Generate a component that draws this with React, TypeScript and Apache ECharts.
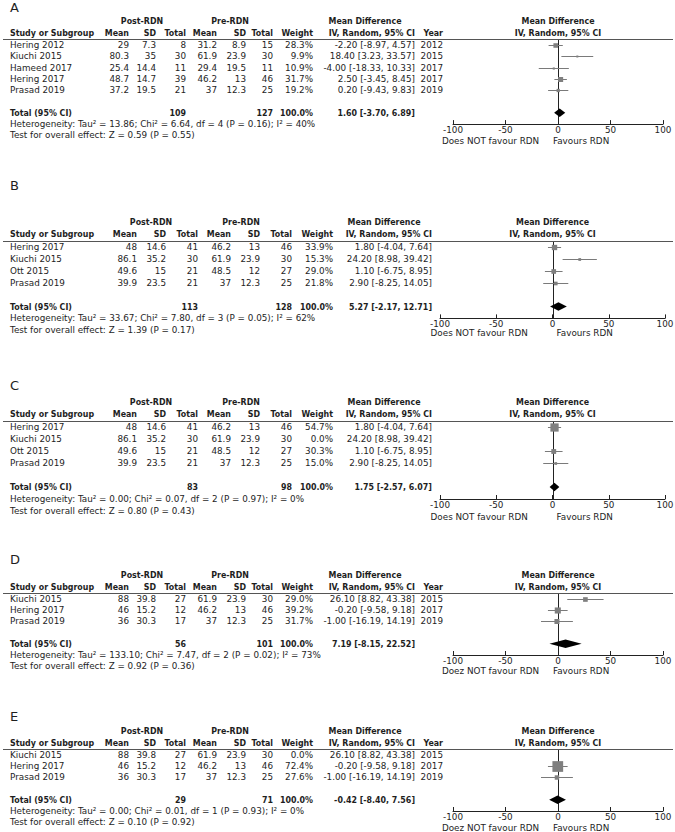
import React, { useEffect, useRef } from "react";
import * as echarts from "echarts";

// ---------- Panel A ----------
const A_studies = ["Hering 2012", "Kiuchi 2015", "Hameed 2017", "Hering 2017", "Prasad 2019"];
const A_postMean = [29, 80.3, 25.4, 48.7, 37.2];
const A_postSD = [7.3, 35, 14.4, 14.7, 19.5];
const A_postN = [8, 30, 11, 39, 21];
const A_preMean = [31.2, 61.9, 29.4, 46.2, 37];
const A_preSD = [8.9, 23.9, 19.5, 13, 12.3];
const A_preN = [15, 30, 11, 46, 25];
const A_weight = [28.3, 9.9, 10.9, 31.7, 19.2];
const A_md = [-2.2, 18.4, -4.0, 2.5, 0.2];
const A_lo = [-8.97, 3.23, -18.33, -3.45, -9.43];
const A_hi = [4.57, 33.57, 10.33, 8.45, 9.83];
const A_year = [2012, 2015, 2017, 2017, 2019];
const A_total = [109, 127, 1.6, -3.7, 6.89];
const A_het = "Heterogeneity: Tau² = 13.86; Chi² = 6.64, df = 4 (P = 0.16); I² = 40%";
const A_test = "Test for overall effect: Z = 0.59 (P = 0.55)";

// ---------- Panel B ----------
const B_studies = ["Hering 2017", "Kiuchi 2015", "Ott 2015", "Prasad 2019"];
const B_postMean = [48, 86.1, 49.6, 39.9];
const B_postSD = [14.6, 35.2, 15, 23.5];
const B_postN = [41, 30, 21, 21];
const B_preMean = [46.2, 61.9, 48.5, 37];
const B_preSD = [13, 23.9, 12, 12.3];
const B_preN = [46, 30, 27, 25];
const B_weight = [33.9, 15.3, 29.0, 21.8];
const B_md = [1.8, 24.2, 1.1, 2.9];
const B_lo = [-4.04, 8.98, -6.75, -8.25];
const B_hi = [7.64, 39.42, 8.95, 14.05];
const B_total = [113, 128, 5.27, -2.17, 12.71];
const B_het = "Heterogeneity: Tau² = 33.67; Chi² = 7.80, df = 3 (P = 0.05); I² = 62%";
const B_test = "Test for overall effect: Z = 1.39 (P = 0.17)";

// ---------- Panel C ----------
const C_studies = ["Hering 2017", "Kiuchi 2015", "Ott 2015", "Prasad 2019"];
const C_postMean = [48, 86.1, 49.6, 39.9];
const C_postSD = [14.6, 35.2, 15, 23.5];
const C_postN = [41, 30, 21, 21];
const C_preMean = [46.2, 61.9, 48.5, 37];
const C_preSD = [13, 23.9, 12, 12.3];
const C_preN = [46, 30, 27, 25];
const C_weight = [54.7, 0.0, 30.3, 15.0];
const C_md = [1.8, 24.2, 1.1, 2.9];
const C_lo = [-4.04, 8.98, -6.75, -8.25];
const C_hi = [7.64, 39.42, 8.95, 14.05];
const C_total = [83, 98, 1.75, -2.57, 6.07];
const C_het = "Heterogeneity: Tau² = 0.00; Chi² = 0.07, df = 2 (P = 0.97); I² = 0%";
const C_test = "Test for overall effect: Z = 0.80 (P = 0.43)";

// ---------- Panel D ----------
const D_studies = ["Kiuchi 2015", "Hering 2017", "Prasad 2019"];
const D_postMean = [88, 46, 36];
const D_postSD = [39.8, 15.2, 30.3];
const D_postN = [27, 12, 17];
const D_preMean = [61.9, 46.2, 37];
const D_preSD = [23.9, 13, 12.3];
const D_preN = [30, 46, 25];
const D_weight = [29.0, 39.2, 31.7];
const D_md = [26.1, -0.2, -1.0];
const D_lo = [8.82, -9.58, -16.19];
const D_hi = [43.38, 9.18, 14.19];
const D_year = [2015, 2017, 2019];
const D_total = [56, 101, 7.19, -8.15, 22.52];
const D_het = "Heterogeneity: Tau² = 133.10; Chi² = 7.47, df = 2 (P = 0.02); I² = 73%";
const D_test = "Test for overall effect: Z = 0.92 (P = 0.36)";

// ---------- Panel E ----------
const E_studies = ["Kiuchi 2015", "Hering 2017", "Prasad 2019"];
const E_postMean = [88, 46, 36];
const E_postSD = [39.8, 15.2, 30.3];
const E_postN = [27, 12, 17];
const E_preMean = [61.9, 46.2, 37];
const E_preSD = [23.9, 13, 12.3];
const E_preN = [30, 46, 25];
const E_weight = [0.0, 72.4, 27.6];
const E_md = [26.1, -0.2, -1.0];
const E_lo = [8.82, -9.58, -16.19];
const E_hi = [43.38, 9.18, 14.19];
const E_year = [2015, 2017, 2019];
const E_total = [29, 71, -0.42, -8.4, 7.56];
const E_het = "Heterogeneity: Tau² = 0.00; Chi² = 0.01, df = 1 (P = 0.93); I² = 0%";
const E_test = "Test for overall effect: Z = 0.10 (P = 0.92)";

const xTicks = [-100, -50, 0, 50, 100];

// ---------- layout ----------
const WIDE = {
  study: 10, postMean: 129, postSD: 156, postN: 186, preMean: 217, preSD: 246, preN: 273,
  weight: 313, md: 415, year: 443, post: 142, pre: 230, mdHead: 365,
  plotLeft: 453, plotWidth: 210, favL: -18, favR: -4.8,
};
const NARROW = {
  study: 10, postMean: 137, postSD: 166, postN: 198, preMean: 231, preSD: 260, preN: 292,
  weight: 333, md: 432, year: null as number | null, post: 151, pre: 241, mdHead: 384,
  plotLeft: 440, plotWidth: 225, favL: -22, favR: 3.6,
};

const panels = [
  { letter: "A", studies: A_studies, postMean: A_postMean, postSD: A_postSD, postN: A_postN, preMean: A_preMean, preSD: A_preSD, preN: A_preN, weight: A_weight, md: A_md, lo: A_lo, hi: A_hi, year: A_year, total: A_total, het: A_het, test: A_test, fav: "Does NOT favour RDN", L: WIDE, y0: 45, s: 11.3, letterRow: -3.3, favOff: 17 },
  { letter: "B", studies: B_studies, postMean: B_postMean, postSD: B_postSD, postN: B_postN, preMean: B_preMean, preSD: B_preSD, preN: B_preN, weight: B_weight, md: B_md, lo: B_lo, hi: B_hi, year: null, total: B_total, het: B_het, test: B_test, fav: "Does NOT favour RDN", L: NARROW, y0: 247, s: 11.9, letterRow: -5.2, favOff: 14.8 },
  { letter: "C", studies: C_studies, postMean: C_postMean, postSD: C_postSD, postN: C_postN, preMean: C_preMean, preSD: C_preSD, preN: C_preN, weight: C_weight, md: C_md, lo: C_lo, hi: C_hi, year: null, total: C_total, het: C_het, test: C_test, fav: "Does NOT favour RDN", L: NARROW, y0: 427, s: 12, letterRow: -3.5, favOff: 18 },
  { letter: "D", studies: D_studies, postMean: D_postMean, postSD: D_postSD, postN: D_postN, preMean: D_preMean, preSD: D_preSD, preN: D_preN, weight: D_weight, md: D_md, lo: D_lo, hi: D_hi, year: D_year, total: D_total, het: D_het, test: D_test, fav: "Doez NOT favour RDN", L: WIDE, y0: 599, s: 11.2, letterRow: -3.5, favOff: 16 },
  { letter: "E", studies: E_studies, postMean: E_postMean, postSD: E_postSD, postN: E_postN, preMean: E_preMean, preSD: E_preSD, preN: E_preN, weight: E_weight, md: E_md, lo: E_lo, hi: E_hi, year: E_year, total: E_total, het: E_het, test: E_test, fav: "Doez NOT favour RDN", L: WIDE, y0: 755, s: 11.2, letterRow: -3.4, favOff: 17 },
];

const FONT = "DejaVu Sans";
const FONT_B = "'DejaVu Sans Condensed', 'DejaVu Sans'";
const FS = 8.8;
const TXT = "#1e1e1e";

type Cell = { x: number; y: number; text?: string; align?: string; bold?: boolean; size?: number; x2?: number; color?: string };

const f2 = (v: number) => v.toFixed(2);
const ci = (m: number, l: number, h: number) => `${f2(m)} [${f2(l)}, ${f2(h)}]`;

function textSeries(cells: Cell[], axisIndex: number) {
  return {
    type: "custom",
    xAxisIndex: axisIndex,
    yAxisIndex: axisIndex,
    silent: true,
    data: cells.map((c) => [c.x, c.y]),
    renderItem: (params: any, api: any) => {
      const c = cells[params.dataIndex];
      const pt = api.coord([api.value(0), api.value(1)]);
      if (c.x2 !== undefined) {
        const pt2 = api.coord([c.x2, api.value(1)]);
        const yy = Math.round(pt[1]) + 0.5;
        return {
          type: "line",
          shape: { x1: pt[0], y1: yy, x2: pt2[0], y2: yy },
          style: { stroke: "#555", lineWidth: 1 },
        };
      }
      return {
        type: "text",
        x: pt[0],
        y: pt[1],
        style: {
          text: c.text,
          textAlign: c.align || "left",
          textVerticalAlign: "middle",
          align: c.align || "left",
          verticalAlign: "middle",
          fontFamily: c.bold ? FONT_B : FONT,
          fontWeight: c.bold ? "bold" : "normal",
          fontSize: c.size || FS,
          fill: c.color || TXT,
        },
      };
    },
  };
}

export default function App() {
  const ref = useRef<HTMLDivElement>(null);

  useEffect(() => {
    document.body.style.margin = "0";
    const chart = echarts.init(ref.current!, null, { renderer: "svg" });
    const grid: any[] = [];
    const xAxis: any[] = [];
    const yAxis: any[] = [];
    const series: any[] = [];

    panels.forEach((p) => {
      const n = p.studies.length;
      const L = p.L;
      const gi = grid.length;

      // ----- forest plot grid -----
      grid.push({ left: L.plotLeft, width: L.plotWidth, top: p.y0 - 0.5 * p.s, height: (n + 2.5) * p.s, outerBoundsMode: "none" });
      xAxis.push({
        gridIndex: gi, type: "value", min: xTicks[0], max: xTicks[xTicks.length - 1], interval: 50,
        axisLine: { onZero: false, lineStyle: { color: "#222", width: 1 } },
        axisTick: { inside: true, length: 4, lineStyle: { color: "#222", width: 1 } },
        axisLabel: { fontFamily: FONT, fontSize: FS, color: TXT, margin: 1 },
        splitLine: { show: false },
      });
      yAxis.push({ gridIndex: gi, type: "value", inverse: true, min: -0.5, max: n + 2, show: false });

      // ----- table grid (x in pixels, y in rows) -----
      grid.push({ left: 0, width: 675, top: p.y0 - 6 * p.s, height: (n + 10) * p.s, outerBoundsMode: "none" });
      xAxis.push({ gridIndex: gi + 1, type: "value", min: 0, max: 675, show: false });
      yAxis.push({ gridIndex: gi + 1, type: "value", inverse: true, min: -6, max: n + 4, show: false });

      // zero line
      series.push({
        type: "custom", xAxisIndex: gi, yAxisIndex: gi, silent: true,
        data: [[0, -0.5, n + 2]],
        renderItem: (params: any, api: any) => {
          const a = api.coord([api.value(0), api.value(1)]);
          const b = api.coord([api.value(0), api.value(2)]);
          const xx = Math.round(a[0]) + 0.5;
          return { type: "line", shape: { x1: xx, y1: a[1], x2: xx, y2: b[1] }, style: { stroke: "#222", lineWidth: 1 } };
        },
      });

      // studies: CI line + weight square
      const rows: number[][] = [];
      p.studies.forEach((_, i) => {
        if (p.weight[i] > 0) rows.push([p.md[i], i, p.lo[i], p.hi[i], p.weight[i]]);
      });
      series.push({
        type: "custom", xAxisIndex: gi, yAxisIndex: gi, silent: true,
        data: rows,
        renderItem: (params: any, api: any) => {
          const y = api.value(1);
          const c = api.coord([api.value(0), y]);
          const a = api.coord([api.value(2), y]);
          const b = api.coord([api.value(3), y]);
          const sz = 0.14 * api.value(4) + 0.6;
          const yy = Math.round(c[1]) + 0.5;
          return {
            type: "group",
            children: [
              { type: "line", shape: { x1: a[0], y1: yy, x2: b[0], y2: yy }, style: { stroke: "#7a7a7a", lineWidth: 1 } },
              { type: "rect", shape: { x: c[0] - sz / 2, y: yy - sz / 2, width: sz, height: sz }, style: { fill: "#7f7f7f" } },
            ],
          };
        },
      });

      // pooled diamond
      series.push({
        type: "custom", xAxisIndex: gi, yAxisIndex: gi, silent: true,
        data: [[p.total[2], n + 1, p.total[3], p.total[4]]],
        renderItem: (params: any, api: any) => {
          const y = api.value(1);
          const c = api.coord([api.value(0), y]);
          const a = api.coord([api.value(2), y]);
          const b = api.coord([api.value(3), y]);
          return {
            type: "polygon",
            shape: { points: [[a[0], c[1]], [c[0], c[1] - 4.2], [b[0], c[1]], [c[0], c[1] + 4.2]] },
            style: { fill: "#000" },
          };
        },
      });

      // plot headers and favour labels (axis units)
      const favRow = n + 2 + p.favOff / p.s;
      series.push(textSeries([
        { x: 0, y: -2.1, text: "Mean Difference", align: "center", bold: true },
        { x: 0, y: -1.1, text: "IV, Random, 95% CI", align: "center", bold: true },
        { x: L.favL, y: favRow, text: p.fav, align: "right" },
        { x: L.favR, y: favRow, text: "Favours RDN", align: "left" },
      ], gi));

      // table
      const cells: Cell[] = [];
      cells.push({ x: 10, y: p.letterRow, text: p.letter, size: 13, align: "left" });
      cells.push({ x: L.post, y: -2.1, text: "Post-RDN", align: "center", bold: true });
      cells.push({ x: L.pre, y: -2.1, text: "Pre-RDN", align: "center", bold: true });
      cells.push({ x: L.mdHead, y: -2.1, text: "Mean Difference", align: "center", bold: true });
      const hdr: [number, string, string][] = [
        [L.study, "Study or Subgroup", "left"],
        [L.postMean, "Mean", "right"], [L.postSD, "SD", "right"], [L.postN, "Total", "right"],
        [L.preMean, "Mean", "right"], [L.preSD, "SD", "right"], [L.preN, "Total", "right"],
        [L.weight, "Weight", "right"], [L.md, "IV, Random, 95% CI", "right"],
      ];
      if (p.year && L.year) hdr.push([L.year, "Year", "right"]);
      hdr.forEach(([x, t, a]) => cells.push({ x, y: -1.1, text: t, align: a, bold: true }));
      cells.push({ x: 3, x2: 673, y: -0.5 });

      p.studies.forEach((st, i) => {
        cells.push({ x: L.study, y: i, text: st, align: "left" });
        cells.push({ x: L.postMean, y: i, text: String(p.postMean[i]), align: "right" });
        cells.push({ x: L.postSD, y: i, text: String(p.postSD[i]), align: "right" });
        cells.push({ x: L.postN, y: i, text: String(p.postN[i]), align: "right" });
        cells.push({ x: L.preMean, y: i, text: String(p.preMean[i]), align: "right" });
        cells.push({ x: L.preSD, y: i, text: String(p.preSD[i]), align: "right" });
        cells.push({ x: L.preN, y: i, text: String(p.preN[i]), align: "right" });
        cells.push({ x: L.weight, y: i, text: p.weight[i].toFixed(1) + "%", align: "right" });
        cells.push({ x: L.md, y: i, text: ci(p.md[i], p.lo[i], p.hi[i]), align: "right" });
        if (p.year && L.year) cells.push({ x: L.year, y: i, text: String(p.year[i]), align: "right" });
      });
      const tr = n + 1;
      cells.push({ x: L.study, y: tr, text: "Total (95% CI)", align: "left", bold: true });
      cells.push({ x: L.postN, y: tr, text: String(p.total[0]), align: "right", bold: true });
      cells.push({ x: L.preN, y: tr, text: String(p.total[1]), align: "right", bold: true });
      cells.push({ x: L.weight, y: tr, text: "100.0%", align: "right", bold: true });
      cells.push({ x: L.md, y: tr, text: ci(p.total[2], p.total[3], p.total[4]), align: "right", bold: true });
      cells.push({ x: L.study, y: n + 2, text: p.het, align: "left" });
      cells.push({ x: L.study, y: n + 3, text: p.test, align: "left" });
      series.push(textSeries(cells, gi + 1));
    });

    chart.setOption({
      animation: false,
      backgroundColor: "#ffffff",
      grid,
      xAxis,
      yAxis,
      series,
    });
    return () => chart.dispose();
  }, []);

  return <div ref={ref} style={{ width: 675, height: 832 }} />;
}
